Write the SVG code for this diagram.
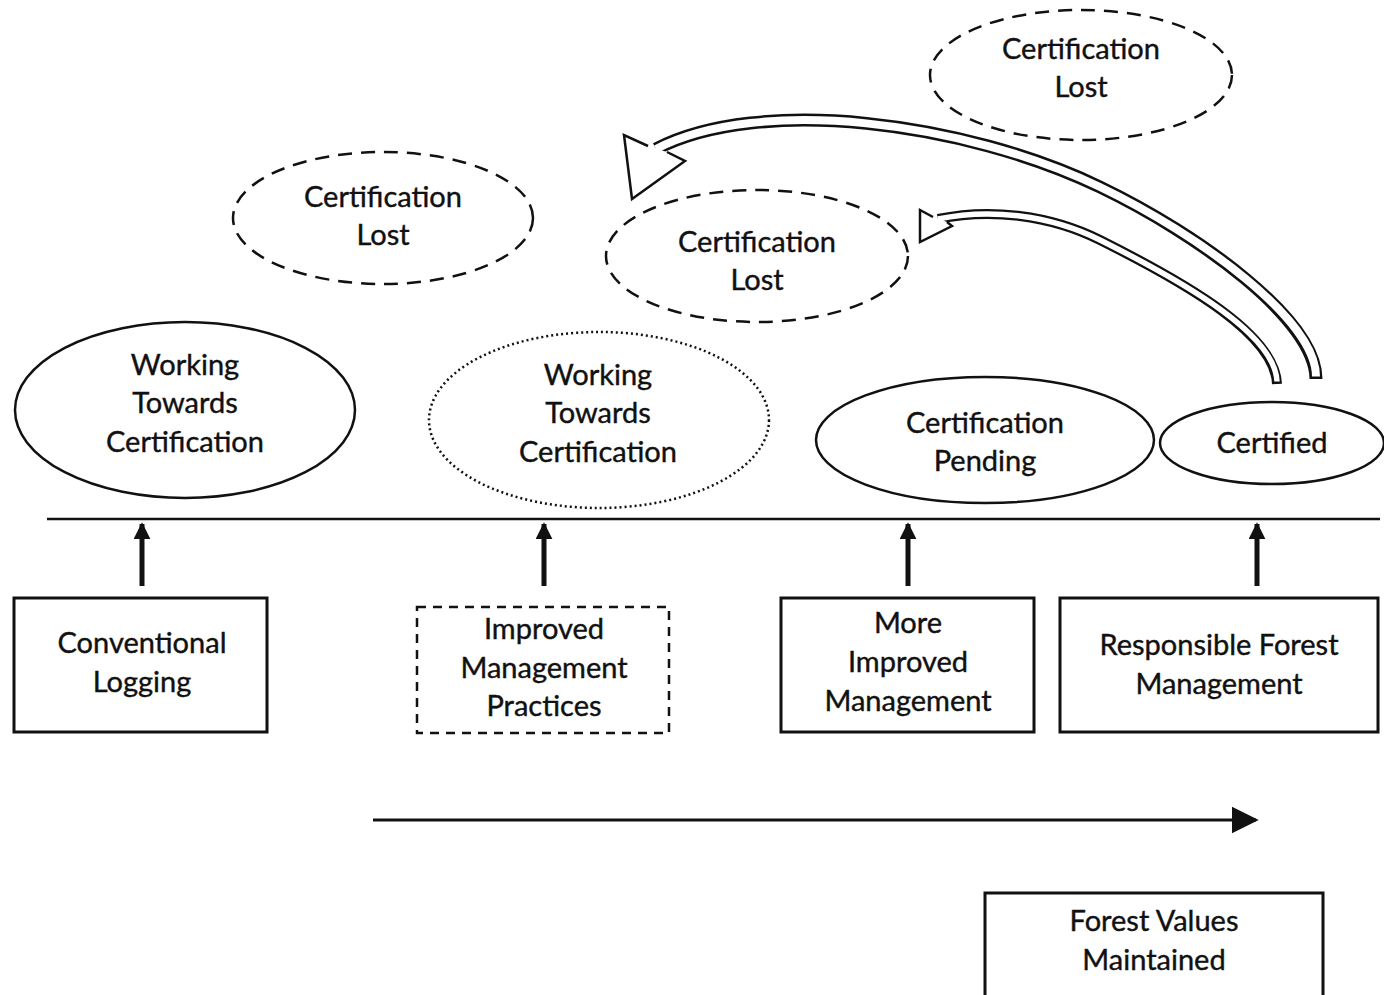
<svg xmlns="http://www.w3.org/2000/svg" width="1384" height="995" viewBox="0 0 1384 995">
<style>
text{font-family:Lato,"Open Sans","Liberation Sans",sans-serif;font-size:29px;fill:#111;stroke:#111;stroke-width:0.4;text-anchor:middle}
.sol{fill:#fff;stroke:#111;stroke-width:2.5}
.dash{fill:#fff;stroke:#111;stroke-width:2.5;stroke-dasharray:14 9}
.dot{fill:#fff;stroke:#111;stroke-width:2.5;stroke-dasharray:2 3}
.box{fill:#fff;stroke:#111;stroke-width:3}
.dbox{fill:#fff;stroke:#111;stroke-width:2.5;stroke-dasharray:9 7}
.up{stroke:#111;stroke-width:5;fill:none}
</style>
<defs>
<marker id="ah" viewBox="0 0 10 10" refX="9" refY="5" markerWidth="3.4" markerHeight="3.4" orient="auto" markerUnits="strokeWidth"><path d="M0,0 L10,5 L0,10 z" fill="#111"/></marker>
<marker id="ah2" viewBox="0 0 10 10" refX="9" refY="5" markerWidth="9" markerHeight="10" orient="auto" markerUnits="strokeWidth"><path d="M0,0 L10,5 L0,10 z" fill="#111"/></marker>
</defs>

<g id="lost1"><ellipse class="dash" cx="383" cy="218" rx="150" ry="66"/><text x="383" y="207">Certification</text><text x="383" y="245">Lost</text></g>
<g id="lost2"><ellipse class="dash" cx="757" cy="256" rx="151" ry="66"/><text x="757" y="252">Certification</text><text x="757" y="290">Lost</text></g>
<g id="lost3"><ellipse class="dash" cx="1081" cy="75" rx="151" ry="65"/><text x="1081" y="59">Certification</text><text x="1081" y="97">Lost</text></g>

<g id="wtc1"><ellipse class="sol" cx="185" cy="410" rx="170" ry="88"/><text x="185" y="375">Working</text><text x="185" y="413">Towards</text><text x="185" y="452">Certification</text></g>
<g id="wtc2"><ellipse class="dot" cx="599" cy="420" rx="170" ry="88"/><text x="598" y="385">Working</text><text x="598" y="423">Towards</text><text x="598" y="462">Certification</text></g>
<g id="pending"><ellipse class="sol" cx="985" cy="440" rx="169" ry="63"/><text x="985" y="433">Certification</text><text x="985" y="471">Pending</text></g>
<g id="certified"><ellipse class="sol" cx="1272" cy="443" rx="112" ry="41"/><text x="1272" y="453">Certified</text></g>

<g id="conv"><rect class="box" x="14" y="598" width="253" height="134"/><text x="142" y="653">Conventional</text><text x="142" y="692">Logging</text></g>
<g id="improved"><rect class="dbox" x="417" y="607" width="252" height="126"/><text x="544" y="639">Improved</text><text x="544" y="678">Management</text><text x="544" y="716">Practices</text></g>
<g id="more"><rect class="box" x="781" y="598" width="253" height="134"/><text x="908" y="633">More</text><text x="908" y="672">Improved</text><text x="908" y="711">Management</text></g>
<g id="rfm"><rect class="box" x="1060" y="598" width="318" height="134"/><text x="1219" y="655">Responsible Forest</text><text x="1219" y="694">Management</text></g>
<g id="fvm"><rect class="box" x="985" y="893" width="338" height="110"/><text x="1154" y="931">Forest Values</text><text x="1154" y="970">Maintained</text></g>

<g id="connectors">
<line x1="47" y1="519" x2="1380" y2="519" stroke="#111" stroke-width="2.5"/>
<line class="up" x1="142" y1="586" x2="142" y2="524" marker-end="url(#ah)"/>
<line class="up" x1="544" y1="586" x2="544" y2="524" marker-end="url(#ah)"/>
<line class="up" x1="908" y1="586" x2="908" y2="524" marker-end="url(#ah)"/>
<line class="up" x1="1257" y1="586" x2="1257" y2="524" marker-end="url(#ah)"/>
<line x1="373" y1="820" x2="1256" y2="820" stroke="#111" stroke-width="3" marker-end="url(#ah2)"/>

<path d="M1316,379 C1316,320 1200,235 1100,187 C965,122 760,95 656,149" fill="none" stroke="#111" stroke-width="13"/>
<path d="M1316,376.5 C1316,320 1200,235 1100,187 C965,122 760,95 656,149" fill="none" stroke="#fff" stroke-width="8"/>
<path d="M648,146 L624,135 L632,199 L685,161 L667,152" fill="#fff" stroke="#111" stroke-width="2.5"/>

<path d="M1277,384 C1275,335 1190,285 1100,240 C1050,215 990,208 938,219" fill="none" stroke="#111" stroke-width="10"/>
<path d="M1277,381.5 C1275,335 1190,285 1100,240 C1050,215 990,208 938,219" fill="none" stroke="#fff" stroke-width="5.5"/>
<path d="M933,217 L920,210 L920,242 L952,226 L947,222" fill="#fff" stroke="#111" stroke-width="2.5"/>
</g>
</svg>
